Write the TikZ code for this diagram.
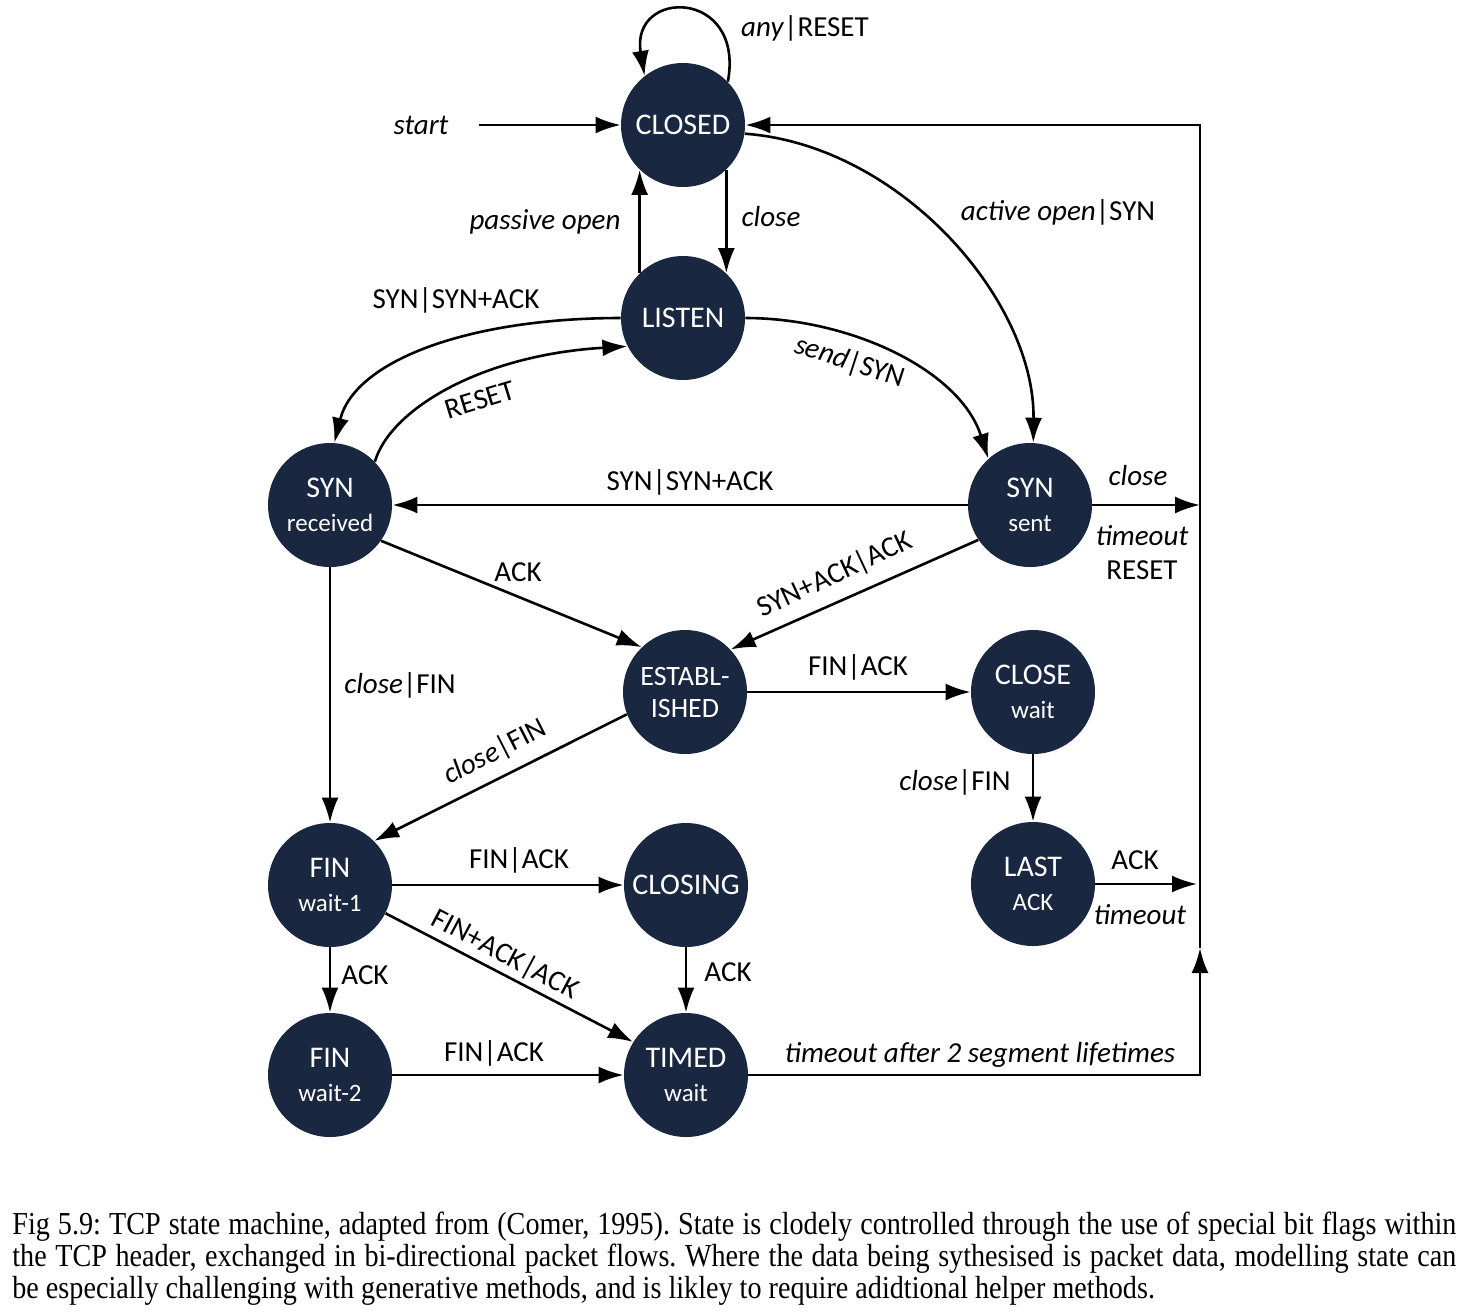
\documentclass[tikz,border=0pt]{standalone}
\usepackage{fontspec}
\setmainfont{Carlito}
\newfontfamily\capfont{Liberation Serif}[FakeStretch=0.88]
\usetikzlibrary{arrows.meta}
\definecolor{stnavy}{RGB}{26,39,65}
\newcommand\stsub[1]{{\fontsize{12.5}{17}\selectfont #1}}
\begin{document}
\begin{tikzpicture}[x=0.5pt, y=-0.5pt, >={Latex[length=12.5pt,width=8.5pt]},
    state/.style={circle, fill=stnavy, text=white, minimum size=62pt, inner sep=0pt, align=center, font=\fontsize{15}{17}\selectfont},
    lbl/.style={font=\fontsize{14.5}{17}\selectfont, inner sep=1pt, align=center},
    tr/.style={->, line width=1.3pt}]
  \useasboundingbox (0,0) rectangle (1468,1314);
  \node[state] (closed) at (683,125) {CLOSED};
  \node[state] (listen) at (683,318) {LISTEN};
  \node[state] (synrec) at (330,505) {SYN\\\stsub{received}};
  \node[state] (synsent) at (1030,505) {SYN\\\stsub{sent}};
  \node[state, font=\fontsize{14}{16}\selectfont] (estab) at (685,692) {ESTABL-\\ISHED};
  \node[state] (closewait) at (1033,692) {CLOSE\\\stsub{wait}};
  \node[state] (finwa) at (330,885) {FIN\\\stsub{wait-1}};
  \node[state] (closing) at (686,885) {CLOSING};
  \node[state] (lastack) at (1033,884) {LAST\\\stsub{ACK}};
  \node[state] (finwb) at (330,1075) {FIN\\\stsub{wait-2}};
  \node[state] (timed) at (686,1075) {TIMED\\\stsub{wait}};
  \node[lbl, inner xsep=15pt] (start) at (421,125) {\textit{start}};
  \coordinate (rsyn) at (1200,505);
  \coordinate (rlast) at (1197,884);
  \coordinate (rup) at (1200,948);
  \draw[tr] (start) -- (closed);
  \draw[tr] (closed.44) .. controls (745,-12) and (630,-12) .. (closed.128);
  \draw[tr] (closed.-46) -- (listen.46);
  \draw[tr] (listen.134) -- (closed.-134);
  \draw[tr] (closed.-8) .. controls (900,145) and (1035,300) .. (synsent.87);
  \draw[tr] (listen.west) .. controls (470,318) and (355,360) .. (synrec.86);
  \draw[tr] (synrec.44) .. controls (390,410) and (480,355) .. (listen.207);
  \draw[tr] (listen.east) .. controls (850,318) and (960,370) .. (synsent.132);
  \draw[tr] (synsent) -- (synrec);
  \draw[tr] (synrec.-35) -- (estab.134);
  \draw[tr] (synsent.214) -- (estab.43);
  \draw[tr] (estab) -- (closewait);
  \draw[tr] (estab.201) -- (finwa.45);
  \draw[tr] (synrec) -- (finwa);
  \draw[tr] (closewait) -- (lastack);
  \draw[tr] (finwa) -- (closing);
  \draw[tr] (finwa.-27) -- (timed.148);
  \draw[tr] (finwa) -- (finwb);
  \draw[tr] (closing) -- (timed);
  \draw[tr] (finwb) -- (timed);
  \draw[tr] (synsent) -- (rsyn);
  \draw[tr] (lastack) -- (rlast);
  \draw[tr] (timed) -| (rup);
  \draw[tr] (rup) |- (closed);
  \node[lbl] (lany) at (805,28) {\textit{any}|RESET};
  \node[lbl] (lpass) at (545,222) {\textit{passive open}};
  \node[lbl] (lclose) at (771,217) {\textit{close}};
  \node[lbl] (lactive) at (1058,212) {\textit{active open}|SYN};
  \node[lbl] (lsynack) at (456,300) {SYN|SYN+ACK};
  \node[lbl, rotate=17] (lreset) at (480,400) {RESET};
  \node[lbl, rotate=-18] (lsend) at (850,362) {\textit{send}|SYN};
  \node[lbl] (lsynackb) at (690,482) {SYN|SYN+ACK};
  \node[lbl] (lsclose) at (1138,476) {\textit{close}};
  \node[lbl] (lstime) at (1142,553) {\textit{timeout}\\RESET};
  \node[lbl] (lack) at (518,572) {ACK};
  \node[lbl, rotate=25] (lsaack) at (835,575) {SYN+ACK|ACK};
  \node[lbl] (lfinack) at (858,667) {FIN|ACK};
  \node[lbl] (lclfin) at (400,685) {\textit{close}|FIN};
  \node[lbl, rotate=27] (lclfinb) at (495,752) {\textit{close}|FIN};
  \node[lbl] (lclfinc) at (955,782) {\textit{close}|FIN};
  \node[lbl] (lfinackb) at (519,860) {FIN|ACK};
  \node[lbl] (llack) at (1135,860) {ACK};
  \node[lbl] (lltime) at (1140,915) {\textit{timeout}};
  \node[lbl, rotate=-28] (lfaack) at (505,955) {FIN+ACK|ACK};
  \node[lbl] (lackb) at (365,975) {ACK};
  \node[lbl] (lackc) at (728,972) {ACK};
  \node[lbl] (lfinackc) at (494,1053) {FIN|ACK};
  \node[lbl] (ltimed) at (980,1055) {\textit{timeout after 2 segment lifetimes}};
  \node[anchor=north west, inner sep=0pt, text width=722pt, align=justify, font=\capfont\fontsize{16}{16}\selectfont\frenchspacing] (caption) at (12,1212) {Fig 5.9: TCP state machine, adapted from (Comer, 1995). State is clodely controlled through the use of special bit flags within\linebreak the TCP header, exchanged in bi-directional packet flows. Where the data being sythesised is packet data, modelling state can\linebreak be especially challenging with generative methods, and is likley to require adidtional helper methods.};
\end{tikzpicture}
\end{document}
